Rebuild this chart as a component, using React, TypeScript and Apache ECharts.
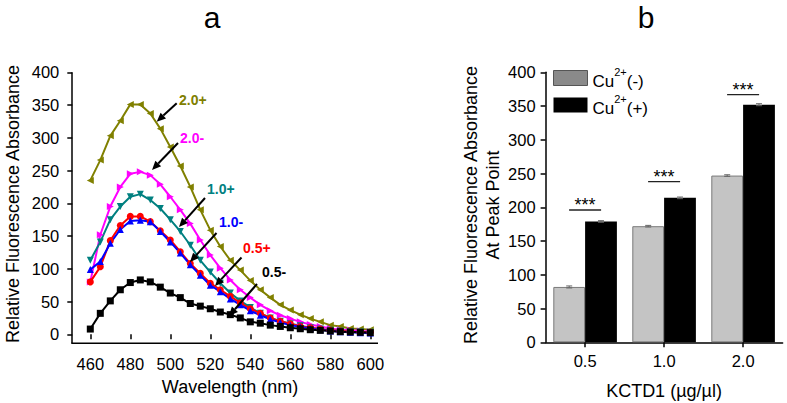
import React, { useEffect, useRef } from "react";
import * as echarts from "echarts";

const FONT = "'Liberation Sans', Arial, sans-serif";

// ---- Panel a: emission spectra ----
const wavelengths = [460, 465, 470, 475, 480, 485, 490, 495, 500, 505, 510, 515, 520, 525, 530, 535, 540, 545, 550, 555, 560, 565, 570, 575, 580, 585, 590, 595, 600];
const conc05neg = [8, 32, 51, 68, 79, 83, 80, 72, 63, 56, 47, 43, 39, 34, 30, 25, 19, 17, 14, 12, 10, 8.5, 7, 6, 5, 4, 3.5, 3, 2.5];
const conc05pos = [80, 103, 143, 166, 180, 180, 172, 158, 144, 126, 108, 93, 78, 68, 58, 48, 39, 32, 25, 20, 16, 12, 10, 8, 6, 5, 4, 3, 3];
const conc10neg = [99, 111, 139, 160, 173, 174, 172, 157, 141, 124, 106, 90, 75, 65, 54, 45, 36, 29, 23, 18, 14, 11, 9, 7, 5, 4, 3, 2.5, 2];
const conc10pos = [113, 141, 175, 195, 210, 214, 205, 192, 175, 157, 136, 113, 95, 78, 63, 51, 41, 32, 25, 20, 16, 13, 10, 8, 6, 5, 4, 3.5, 3];
const conc20neg = [80, 152, 195, 225, 245, 248, 243, 229, 210, 190, 169, 144, 121, 101, 83, 68, 56, 45, 36, 29, 24, 19, 15, 12, 9, 7, 6, 5, 4];
const conc20pos = [235, 266, 303, 326, 351, 351, 337, 314, 286, 257, 225, 190, 159, 134, 113, 98, 82, 68, 56, 45, 37, 30, 24, 19, 14, 12, 9, 8, 7];
const xTicksA = [460, 480, 500, 520, 540, 560, 580, 600];

// annotation arrows (data space): label, tail, head, label anchor
const annotLabels = ["2.0+", "2.0-", "1.0+", "1.0-", "0.5+", "0.5-"];
const arrowTails = [[503.2, 352.7], [503.85, 292.1], [517.35, 208.1], [523.1, 154.7], [535.6, 117.3], [543.35, 76.8]];
const arrowHeads = [[493.2, 324.6], [490.85, 250.8], [504.35, 163.8], [509.85, 110.4], [522.35, 73.7], [529.35, 27.9]];
const labelAnchors = [[504.35, 357.7], [504.85, 299.7], [518.35, 221.8], [524.35, 171.5], [536.35, 132.5], [545.85, 94.4]];

// ---- Panel b: peak bars ----
const doses = ["0.5", "1.0", "2.0"];
const cuNeg = [82, 172, 247];
const cuPos = [179, 214, 352];
const errNeg = [1.5, 1.2, 1.2];
const errPos = [1.2, 1.2, 1.5];
const sigLineY = [196, 238, 367];

const COLORS: Record<string, string> = {
  "0.5-": "#000000",
  "0.5+": "#ff0000",
  "1.0-": "#0000ff",
  "1.0+": "#008080",
  "2.0-": "#ff00ff",
  "2.0+": "#808000",
};

function lineSeries(name: string, vals: number[], symbol: string, rotate: number) {
  return {
    type: "line",
    name,
    xAxisIndex: 0,
    yAxisIndex: 0,
    data: wavelengths.map((w, i) => [w, vals[i]]),
    symbol,
    symbolRotate: rotate,
    symbolSize: 7,
    showSymbol: true,
    lineStyle: { color: COLORS[name], width: 2 },
    itemStyle: { color: COLORS[name] },
    z: 3,
  };
}

export default function App() {
  const ref = useRef<HTMLDivElement>(null);
  useEffect(() => {
    const chart = echarts.init(ref.current!, null, { renderer: "svg" });
    const bandOffset = (1 - 0.195) / 4;

    const errRender = (side: number) => (params: any, api: any) => {
      const idx = api.value(0);
      const v = api.value(1);
      const e = api.value(2);
      const band = api.size([1, 0])[0];
      const c = api.coord([idx, v]);
      const x = c[0] + side * band * bandOffset;
      const yT = api.coord([idx, v + e])[1];
      const yB = api.coord([idx, v - e])[1];
      const st = { stroke: "#666", lineWidth: 1 };
      return {
        type: "group",
        children: [
          { type: "line", shape: { x1: x, y1: yT, x2: x, y2: yB }, style: st },
          { type: "line", shape: { x1: x - 3, y1: yT, x2: x + 3, y2: yT }, style: st },
          { type: "line", shape: { x1: x - 3, y1: yB, x2: x + 3, y2: yB }, style: st },
        ],
      };
    };

    const option: any = {
      animation: false,
      textStyle: { fontFamily: FONT },
      grid: [
        { left: 90.3, right: 416.7, top: 72.3, bottom: 68.7 },
        { left: 545.6, right: 4.4, top: 72.3, bottom: 60.7 },
      ],
      xAxis: [
        {
          gridIndex: 0,
          type: "value",
          min: 460,
          max: 600,
          interval: 20,
          offset: 9,
          axisLine: { show: false },
          axisTick: { show: true, length: 5, lineStyle: { color: "#000", width: 1.5 } },
          axisLabel: { color: "#000", fontSize: 16.5, margin: 12, fontFamily: FONT },
          splitLine: { show: false },
        },
        {
          gridIndex: 1,
          type: "category",
          data: doses,
          axisLine: { show: true, lineStyle: { color: "#000", width: 1.5 } },
          axisTick: { show: true, alignWithLabel: true, length: 5, lineStyle: { color: "#000", width: 1.5 } },
          axisLabel: { color: "#000", fontSize: 16.5, margin: 10, fontFamily: FONT },
          splitLine: { show: false },
        },
      ],
      yAxis: [
        {
          gridIndex: 0,
          type: "value",
          min: 0,
          max: 400,
          interval: 50,
          offset: 18,
          axisLine: { show: false },
          axisTick: { show: true, length: 5, lineStyle: { color: "#000", width: 1.5 } },
          axisLabel: { color: "#000", fontSize: 16.5, margin: 13, fontFamily: FONT },
          splitLine: { show: false },
        },
        {
          gridIndex: 1,
          type: "value",
          min: 0,
          max: 400,
          interval: 50,
          axisLine: { show: true, lineStyle: { color: "#000", width: 1.5 } },
          axisTick: { show: true, length: 5, lineStyle: { color: "#000", width: 1.5 } },
          axisLabel: { color: "#000", fontSize: 16.5, margin: 10, fontFamily: FONT },
          splitLine: { show: false },
        },
      ],
      legend: {
        orient: "vertical",
        left: 553,
        top: 66,
        padding: 0,
        itemWidth: 34,
        itemHeight: 15,
        itemGap: 3,
        icon: "rect",
        selectedMode: false,
        data: [
          { name: "Cu2+(-)", itemStyle: { color: "#8a8a8a", borderColor: "#555", borderWidth: 1 } },
          { name: "Cu2+(+)", itemStyle: { color: "#000", borderWidth: 0 } },
        ],
        formatter: (n: string) => (n === "Cu2+(-)" ? "{b|Cu}{s|2+}{b|(-)}" : "{b|Cu}{s|2+}{b|(+)}"),
        textStyle: {
          rich: {
            b: { fontSize: 17, lineHeight: 24, verticalAlign: "bottom", fontFamily: FONT, color: "#000" },
            s: { fontSize: 11, lineHeight: 12, verticalAlign: "top", fontFamily: FONT, color: "#000" },
          },
        },
      },
      series: [
        lineSeries("2.0+", conc20pos, "triangle", 90),
        lineSeries("2.0-", conc20neg, "triangle", -90),
        lineSeries("1.0+", conc10pos, "triangle", 180),
        lineSeries("0.5+", conc05pos, "circle", 0),
        lineSeries("1.0-", conc10neg, "triangle", 0),
        lineSeries("0.5-", conc05neg, "rect", 0),
        {
          type: "custom",
          name: "arrows",
          xAxisIndex: 0,
          yAxisIndex: 0,
          clip: false,
          z: 10,
          encode: { x: [0, 2, 4], y: [1, 3, 5] },
          data: annotLabels.map((_, i) => [
            arrowTails[i][0], arrowTails[i][1], arrowHeads[i][0], arrowHeads[i][1], labelAnchors[i][0], labelAnchors[i][1],
          ]),
          renderItem: (params: any, api: any) => {
            const i = params.dataIndex;
            const t = api.coord([api.value(0), api.value(1)]);
            const h = api.coord([api.value(2), api.value(3)]);
            const l = api.coord([api.value(4), api.value(5)]);
            const dx = h[0] - t[0];
            const dy = h[1] - t[1];
            const len = Math.hypot(dx, dy);
            const ux = dx / len;
            const uy = dy / len;
            const al = 9;
            const aw = 4;
            const bx = h[0] - ux * al;
            const by = h[1] - uy * al;
            return {
              type: "group",
              children: [
                { type: "line", shape: { x1: t[0], y1: t[1], x2: bx, y2: by }, style: { stroke: "#000", lineWidth: 2 } },
                {
                  type: "polygon",
                  shape: { points: [[h[0], h[1]], [bx - uy * aw, by + ux * aw], [bx + uy * aw, by - ux * aw]] },
                  style: { fill: "#000" },
                },
                {
                  type: "text",
                  x: l[0],
                  y: l[1],
                  style: {
                    text: annotLabels[i],
                    fill: COLORS[annotLabels[i]],
                    fontSize: 14,
                    fontWeight: "bold",
                    fontFamily: FONT,
                    align: "left",
                    verticalAlign: "middle",
                  },
                },
              ],
            };
          },
        },
        {
          type: "bar",
          name: "Cu2+(-)",
          xAxisIndex: 1,
          yAxisIndex: 1,
          data: cuNeg,
          barGap: "0%",
          barCategoryGap: "19.5%",
          itemStyle: { color: "#c4c4c4", borderColor: "#7a7a7a", borderWidth: 1 },
        },
        {
          type: "bar",
          name: "Cu2+(+)",
          xAxisIndex: 1,
          yAxisIndex: 1,
          data: cuPos,
          barGap: "0%",
          barCategoryGap: "19.5%",
          itemStyle: { color: "#000" },
        },
        {
          type: "custom",
          name: "errNeg",
          xAxisIndex: 1,
          yAxisIndex: 1,
          z: 5,
          data: cuNeg.map((v, i) => [i, v, errNeg[i]]),
          encode: { x: 0, y: 1 },
          renderItem: errRender(-1),
        },
        {
          type: "custom",
          name: "errPos",
          xAxisIndex: 1,
          yAxisIndex: 1,
          z: 5,
          data: cuPos.map((v, i) => [i, v, errPos[i]]),
          encode: { x: 0, y: 1 },
          renderItem: errRender(1),
        },
        {
          type: "custom",
          name: "sig",
          xAxisIndex: 1,
          yAxisIndex: 1,
          z: 6,
          clip: false,
          data: sigLineY.map((v, i) => [i, v]),
          encode: { x: 0, y: 1 },
          renderItem: (params: any, api: any) => {
            const c = api.coord([api.value(0), api.value(1)]);
            return {
              type: "group",
              children: [
                { type: "line", shape: { x1: c[0] - 16, y1: c[1], x2: c[0] + 16, y2: c[1] }, style: { stroke: "#222", lineWidth: 1.3 } },
                {
                  type: "text",
                  x: c[0],
                  y: c[1] + 4,
                  style: { text: "***", fill: "#000", fontSize: 18, fontFamily: FONT, align: "center", verticalAlign: "bottom" },
                },
              ],
            };
          },
        },
      ],
      graphic: [
        { type: "line", shape: { x1: 72, y1: 72.3, x2: 72, y2: 343.3 }, style: { stroke: "#000", lineWidth: 1.5 } },
        { type: "line", shape: { x1: 71.3, y1: 343.3, x2: 378, y2: 343.3 }, style: { stroke: "#000", lineWidth: 1.5 } },
        { type: "text", x: 212, y: 17, style: { text: "a", fontSize: 30, fontFamily: FONT, fill: "#000", align: "center", verticalAlign: "middle" } },
        { type: "text", x: 646, y: 17, style: { text: "b", fontSize: 30, fontFamily: FONT, fill: "#000", align: "center", verticalAlign: "middle" } },
        {
          type: "text",
          x: 13,
          y: 204,
          rotation: Math.PI / 2,
          style: { text: "Relative Fluorescence Absorbance", fontSize: 18, fontFamily: FONT, fill: "#000", align: "center", verticalAlign: "middle" },
        },
        { type: "text", x: 230, y: 387, style: { text: "Wavelength (nm)", fontSize: 18, fontFamily: FONT, fill: "#000", align: "center", verticalAlign: "middle" } },
        {
          type: "text",
          x: 481.5,
          y: 205,
          rotation: Math.PI / 2,
          style: {
            text: "Relative Fluorescence Absorbance\nAt Peak Point",
            fontSize: 18,
            lineHeight: 22,
            fontFamily: FONT,
            fill: "#000",
            align: "center",
            verticalAlign: "middle",
          },
        },
        { type: "text", x: 664, y: 391, style: { text: "KCTD1 (µg/µl)", fontSize: 18, fontFamily: FONT, fill: "#000", align: "center", verticalAlign: "middle" } },
      ],
    };
    chart.setOption(option);
    return () => chart.dispose();
  }, []);
  return <div ref={ref} style={{ position: "fixed", left: 0, top: 0, width: 787, height: 403, background: "#fff" }} />;
}
